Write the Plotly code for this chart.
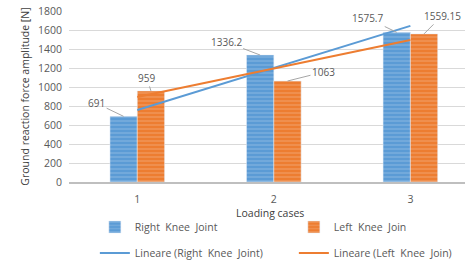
import plotly.graph_objects as go

categories = [1, 2, 3]
tick_labels = ["1", "2", "3"]
right_knee = [691, 1336.2, 1575.7]
left_knee = [959, 1063, 1559.15]
right_labels = ["691", "1336.2", "1575.7"]
left_labels = ["959", "1063", "1559.15"]

def linfit(xs, ys):
    n = len(xs)
    mx = sum(xs) / n
    my = sum(ys) / n
    s = sum((x - mx) * (y - my) for x, y in zip(xs, ys)) / sum((x - mx) ** 2 for x in xs)
    b = my - s * mx
    return [s * x + b for x in xs]

BLUE = "#5B9BD5"
ORANGE = "#ED7D31"
FONT = "Open Sans"

fig = go.Figure()
fig.add_trace(go.Bar(
    x=categories, y=right_knee, name="Right  Knee  Joint",
    marker=dict(color=BLUE, pattern=dict(shape="-", fgcolor="#9DC3E6", size=4, solidity=0.35)),
    offsetgroup="r", legend="legend",
))
fig.add_trace(go.Bar(
    x=categories, y=left_knee, name="Left  Knee  Join",
    marker=dict(color=ORANGE, pattern=dict(shape="-", fgcolor="#F4B183", size=4, solidity=0.35)),
    offsetgroup="l", legend="legend",
))
fig.add_trace(go.Scatter(
    x=[categories[0], categories[-1]],
    y=[linfit(categories, right_knee)[0], linfit(categories, right_knee)[-1]],
    mode="lines", line=dict(color=BLUE, width=2), name="Lineare (Right  Knee  Joint)",
    legend="legend2",
))
fig.add_trace(go.Scatter(
    x=[categories[0], categories[-1]],
    y=[linfit(categories, left_knee)[0], linfit(categories, left_knee)[-1]],
    mode="lines", line=dict(color=ORANGE, width=2), name="Lineare (Left  Knee  Join)",
    legend="legend2",
))

offsets_r = [(-27, -13), (-34, -13), (-29, -14)]
offsets_l = [(-4, -13), (36, -9), (18, -18)]
for i, c in enumerate(categories):
    ax, ay = offsets_r[i]
    fig.add_annotation(x=c - 0.1, y=right_knee[i], text=right_labels[i], showarrow=True,
                       arrowhead=0, arrowwidth=1, arrowcolor="#a6a6a6", ax=ax, ay=ay,
                       font=dict(size=10, color="#595959", family=FONT))
    ax, ay = offsets_l[i]
    fig.add_annotation(x=c + 0.1, y=left_knee[i], text=left_labels[i], showarrow=True,
                       arrowhead=0, arrowwidth=1, arrowcolor="#a6a6a6", ax=ax, ay=ay,
                       font=dict(size=10, color="#595959", family=FONT))

# x-axis title placed below the tick labels
fig.add_annotation(text="Loading cases", xref="paper", yref="paper", x=0.508, y=-0.181,
                   xanchor="center", yanchor="middle", showarrow=False,
                   font=dict(size=10.5, color="#404040", family=FONT))

legend_common = dict(orientation="h", xref="container", yref="container",
                     xanchor="left", yanchor="middle", entrywidth=154,
                     font=dict(size=10.5, color="#595959"), bgcolor="rgba(0,0,0,0)",
                     itemwidth=30)
fig.update_layout(
    width=465, height=263,
    margin=dict(l=69, r=0, t=11, b=81, autoexpand=False),
    paper_bgcolor="white", plot_bgcolor="white",
    font=dict(family=FONT, size=10, color="#595959"),
    barmode="group", bargap=0.6, bargroupgap=0,
    showlegend=True,
    legend=dict(legend_common, x=0.204, y=1 - 227 / 263),
    legend2=dict(legend_common, x=0.204, y=1 - 253 / 263),
    xaxis=dict(range=[0.5, 3.4], tickvals=categories, ticktext=tick_labels,
               showgrid=False, showline=True, linecolor="#bfbfbf", linewidth=2,
               ticks="", automargin=True, ticklabelstandoff=6,
               tickfont=dict(size=10.5, color="#595959")),
    yaxis=dict(range=[0, 1800], dtick=200, showgrid=True, gridcolor="#d9d9d9",
               zeroline=False, ticks="", automargin=True, ticklabelstandoff=6,
               tickfont=dict(size=10.5, color="#595959"),
               title=dict(text="Ground reaction force amplitude [N]",
                          font=dict(size=10.5, color="#404040"), standoff=6)),
)

fig.write_html("out.html", post_script="document.body.style.margin='0';",
               config={"displayModeBar": False})
